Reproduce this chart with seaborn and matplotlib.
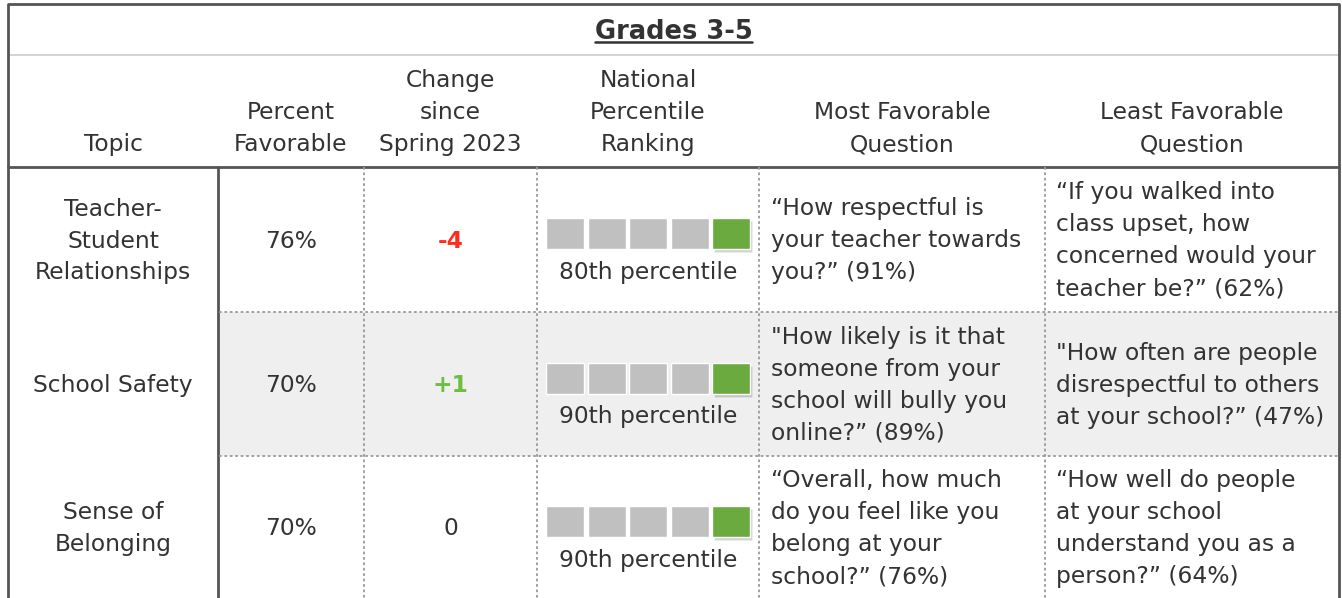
import matplotlib.pyplot as plt
import seaborn as sns
from matplotlib.patches import Rectangle

# Table content
title = "Grades 3-5"
headers = [
    ["Topic"],
    ["Percent", "Favorable"],
    ["Change", "since", "Spring 2023"],
    ["National", "Percentile", "Ranking"],
    ["Most Favorable", "Question"],
    ["Least Favorable", "Question"],
]
topics = [["Teacher-", "Student", "Relationships"], ["School Safety"], ["Sense of", "Belonging"]]
pct_favorable = [76, 70, 70]
change = [-4, 1, 0]
percentile_rank = [80, 90, 90]
most_q = [
    ["“How respectful is", "your teacher towards", "you?” (91%)"],
    ["\"How likely is it that", "someone from your", "school will bully you", "online?” (89%)"],
    ["“Overall, how much", "do you feel like you", "belong at your", "school?” (76%)"],
]
least_q = [
    ["“If you walked into", "class upset, how", "concerned would your", "teacher be?” (62%)"],
    ["\"How often are people", "disrespectful to others", "at your school?” (47%)"],
    ["“How well do people", "at your school", "understand you as a", "person?” (64%)"],
]

sns.set_theme(style="white")
plt.rcParams["font.family"] = ["DejaVu Sans"]

W, H = 1342, 598
fig = plt.figure(figsize=(W / 100, H / 100), dpi=100)
ax = fig.add_axes([0, 0, 1, 1])
ax.set_xlim(0, W)
ax.set_ylim(H, 0)
ax.axis("off")

txt = "#333333"
dark = "#555555"
dot = "#9a9a9a"
fs = 16.8
lh = 32

left, right, top = 8, 1339, 4
col_edges = [left, 218, 364, 537, 759, 1045, right]
col_mid = [(a + b) / 2 for a, b in zip(col_edges[:-1], col_edges[1:])]
row_edges = [167, 312, 456, 598]


def lines_at(x, yc, lines, ha="center", color=txt, weight="normal"):
    n = len(lines)
    for i, s in enumerate(lines):
        y = yc - 1 + (i - (n - 1) / 2) * lh
        ax.text(x, y, s, ha=ha, va="center_baseline", fontsize=fs, color=color, fontweight=weight)


# shaded middle row
ax.add_patch(Rectangle((219, row_edges[1]), right - 219, row_edges[2] - row_edges[1],
                       facecolor="#efefef", edgecolor="none", zorder=0))

# title with underline
t = ax.text((left + right) / 2, 29, title, ha="center", va="center_baseline",
            fontsize=18.5, fontweight="bold", color=txt)
fig.canvas.draw()
bb = t.get_window_extent().transformed(ax.transData.inverted())
ax.plot([bb.x0, bb.x1], [42, 42], color=txt, lw=1.8)

# header
for cm, h in zip(col_mid, headers):
    n = len(h)
    for i, s in enumerate(h):
        ax.text(cm, 142 - (n - 1 - i) * lh, s, ha="center", va="center_baseline", fontsize=fs, color=txt)

# body
for r in range(3):
    yc = (row_edges[r] + row_edges[r + 1]) / 2
    lines_at(col_mid[0], yc, topics[r])
    lines_at(col_mid[1], yc, [f"{pct_favorable[r]}%"])
    c = change[r]
    if c < 0:
        lines_at(col_mid[2], yc, [f"{c}"], color="#ff2b1c", weight="bold")
    elif c > 0:
        lines_at(col_mid[2], yc, [f"+{c}"], color="#6cbf3f", weight="bold")
    else:
        lines_at(col_mid[2], yc, ["0"])

    # percentile blocks (quintile of national ranking highlighted)
    bw, gap, bh = 38, 3.5, 31
    x0 = col_mid[3] - (5 * bw + 4 * gap) / 2
    xs = [x0 + bw / 2 + k * (bw + gap) for k in range(5)]
    hi = min(4, percentile_rank[r] // 20)
    btop = yc - 21.5
    cols = ["#6aaa3e" if k == hi else "#c0c0c0" for k in range(5)]
    ax.bar([xs[hi] + 2], [bh], width=bw, bottom=btop + 3, color="#000000", alpha=0.18, zorder=1)
    ax.bar(xs, [bh] * 5, width=bw, bottom=btop, color=cols, zorder=2)
    ax.text(col_mid[3], yc + 30.5, f"{percentile_rank[r]}th percentile", ha="center",
            va="center_baseline", fontsize=fs, color=txt)

    lines_at(771, yc, most_q[r], ha="left")
    lines_at(1056, yc, least_q[r], ha="left")

# grid lines
ax.plot([left, right], [55, 55], color="#cccccc", lw=1.2)
ax.plot([left, right], [167, 167], color=dark, lw=2)
ax.plot([218, 218], [167, H], color=dark, lw=2)
for y in row_edges[1:3]:
    ax.plot([219, right], [y, y], color=dot, lw=1.3, ls=(0, (1.5, 1.5)))
for x in col_edges[2:-1]:
    ax.plot([x, x], [167, H], color=dot, lw=1.3, ls=(0, (1.5, 1.5)))
ax.plot([left, left, right, right], [H, top, top, H], color=dark, lw=2)

fig.savefig("out.png", dpi=100)
